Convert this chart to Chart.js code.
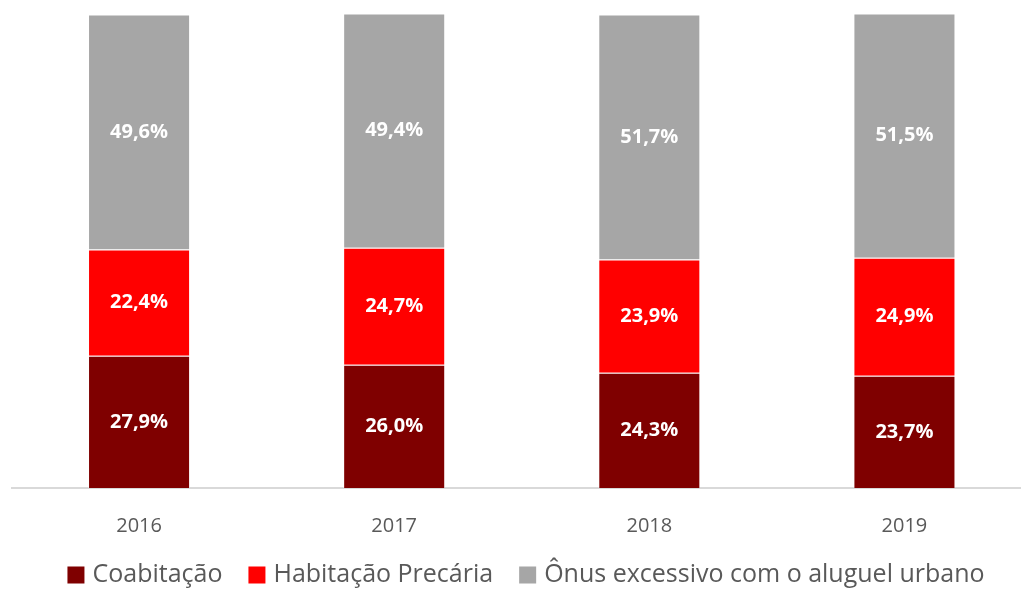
<!DOCTYPE html>
<html>
<head>
<meta charset="utf-8">
<script src="https://cdn.jsdelivr.net/npm/chart.js@4"></script>
<style>
  html, body { margin: 0; padding: 0; background: #fff; overflow: hidden; }
  #caixa { width: 1032px; height: 589px; }
</style>
</head>
<body>
<div id="caixa"><canvas id="grafico"></canvas></div>
<script>
// dados do grafico
const anos = ["2016", "2017", "2018", "2019"];
const coabitacao = [27.9, 26.0, 24.3, 23.7];
const habitacaoPrecaria = [22.4, 24.7, 23.9, 24.9];
const onusAluguel = [49.6, 49.4, 51.7, 51.5];

const fonte = "'Open Sans', 'Noto Sans', sans-serif";

// escreve o valor no meio de cada barra
const rotulosBarras = {
    id: "rotulosBarras",
    afterDatasetsDraw(chart) {
        const ctx = chart.ctx;
        ctx.save();
        ctx.fillStyle = "#ffffff";
        ctx.font = "bold 20px " + fonte;
        ctx.textAlign = "center";
        ctx.textBaseline = "middle";
        chart.data.datasets.forEach((ds, i) => {
            chart.getDatasetMeta(i).data.forEach((barra, j) => {
                const meio = (barra.y + barra.base) / 2;
                const texto = ds.data[j].toFixed(1).replace(".", ",") + "%";
                ctx.fillText(texto, barra.x, meio);
            });
        });
        ctx.restore();
    }
};

// legenda desenhada a mao, centrada embaixo
const legendaBaixo = {
    id: "legendaBaixo",
    afterDraw(chart) {
        const ctx = chart.ctx;
        const caixa = 17, espaco = 8, entreItens = 26;
        const centroX = 526, centroY = 575;
        ctx.save();
        ctx.font = "25px " + fonte;
        ctx.textBaseline = "middle";
        const itens = chart.data.datasets.map(ds => ({
            texto: ds.label,
            cor: ds.backgroundColor,
            largura: ctx.measureText(ds.label).width
        }));
        let total = 0;
        itens.forEach((it, i) => {
            total += caixa + espaco + it.largura + (i < itens.length - 1 ? entreItens : 0);
        });
        let x = centroX - total / 2;
        itens.forEach(it => {
            ctx.fillStyle = it.cor;
            ctx.fillRect(x, centroY - caixa / 2, caixa, caixa);
            x += caixa + espaco;
            ctx.fillStyle = "#595959";
            ctx.fillText(it.texto, x, centroY);
            x += it.largura + entreItens;
        });
        ctx.restore();
    }
};

function serie(nome, valores, cor) {
    return {
        label: nome,
        data: valores,
        backgroundColor: cor,
        borderColor: "rgba(255,255,255,0.45)",
        borderWidth: 1,
        barPercentage: 0.4,
        categoryPercentage: 1
    };
}

const grafico = new Chart(document.getElementById("grafico"), {
    type: "bar",
    data: {
        labels: anos,
        datasets: [
            serie("Coabitação", coabitacao, "#7f0000"),
            serie("Habitação Precária", habitacaoPrecaria, "#ff0000"),
            serie("Ônus excessivo com o aluguel urbano", onusAluguel, "#a6a6a6")
        ]
    },
    options: {
        responsive: true,
        maintainAspectRatio: false,
        animation: false,
        layout: { padding: { left: 11.5, right: 0, top: 14, bottom: 33 } },
        plugins: {
            tooltip: { enabled: false },
            legend: { display: false }
        },
        scales: {
            x: {
                stacked: true,
                grid: { display: false },
                border: { color: "#d9d9d9", width: 2 },
                ticks: {
                    color: "#595959",
                    font: { family: fonte, size: 20 },
                    padding: 18
                },
                afterFit(escala) {
                    escala.height = 68;
                }
            },
            y: {
                stacked: true,
                display: false,
                min: 0,
                max: 100
            }
        }
    },
    plugins: [rotulosBarras, legendaBaixo]
});
</script>
</body>
</html>
